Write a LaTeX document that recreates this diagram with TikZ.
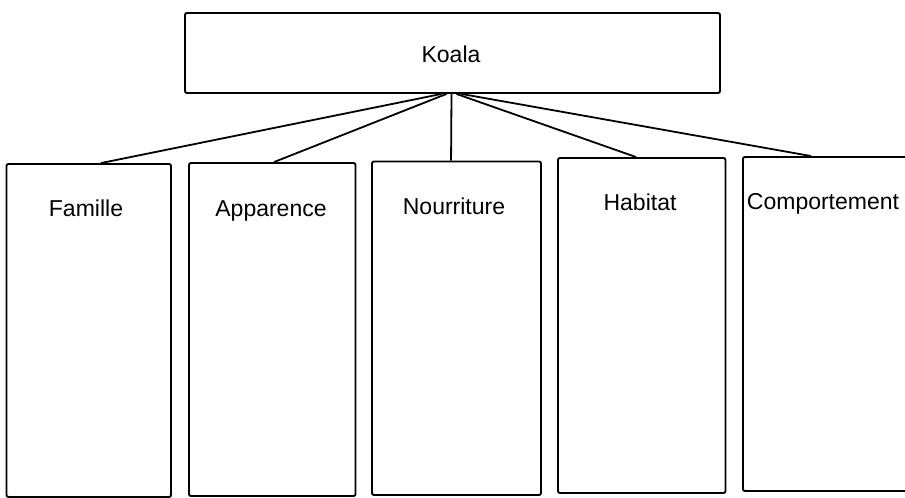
\documentclass[tikz,border=0pt]{standalone}
\usepackage{fontspec}
\setmainfont{Liberation Sans}
\usetikzlibrary{calc}
\begin{document}
\begin{tikzpicture}[x=1pt,y=-1pt,
  boxshape/.style={draw=black, line width=1.9pt, rounded corners=2pt, inner sep=0pt, fill=none},
  label text/.style={anchor=base, font=\fontsize{23}{26}\selectfont, inner sep=0pt},
  link/.style={draw=black, line width=1.8pt}]
\useasboundingbox (0,0) rectangle (905,498);
\fill[white] (0,0) rectangle (905,498);
\begin{scope}
\clip (0,0) rectangle (905,498);
% top box
\node[boxshape, minimum width=535pt, minimum height=80pt] (koala) at (452.5,53) {};
\node[label text] (koalat) at (451,62) {Koala};
% bottom boxes
\node[boxshape, minimum width=164.5pt, minimum height=333pt] (fam) at (88.75,330.5) {};
\node[boxshape, minimum width=166.5pt, minimum height=333pt] (app) at (272.25,329.5) {};
\node[boxshape, minimum width=169pt, minimum height=333.5pt] (nou) at (456.5,328.25) {};
\node[boxshape, minimum width=167.5pt, minimum height=335pt] (hab) at (641.75,325.5) {};
\node[boxshape, minimum width=177pt, minimum height=334pt] (com) at (831.5,324) {};
\node[label text] (famt) at (86,216) {Famille};
\node[label text] (appt) at (271,216) {Apparence};
\node[label text] (nout) at (454,214) {Nourriture};
\node[label text] (habt) at (640,210) {Habitat};
\node[label text] (comt) at (823,209) {Comportement};
% connectors
\draw[link] ($(koala.south)+(-11,0)$) -- ($(fam.north west)+(95.5,0)$);
\draw[link] ($(koala.south)+(-6,0)$) -- ($(app.north west)+(86,0)$);
\draw[link] ($(koala.south)+(-1,0)$) -- ($(nou.north west)+(80,0)$);
\draw[link] ($(koala.south)+(4,0)$) -- ($(hab.north west)+(79,0)$);
\draw[link] ($(koala.south)+(9,0)$) -- ($(com.north west)+(69,0)$);
\end{scope}
\end{tikzpicture}
\end{document}
